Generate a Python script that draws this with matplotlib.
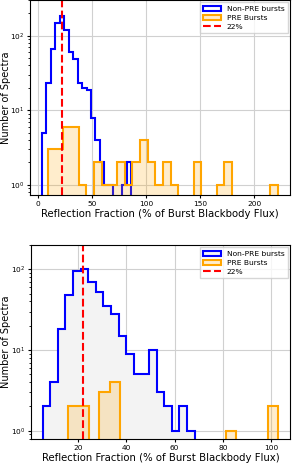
import numpy as np
import matplotlib
matplotlib.use('Agg')
import matplotlib.pyplot as plt

# Top panel: bin edges and counts
top_nonpre_edges = np.linspace(3.4, 86.0, 21)
top_nonpre_counts = [5, 23, 66, 150, 185, 120, 60, 49, 23, 20,
                     19, 8, 4, 2, 1, 1, 0, 0, 1, 2]
top_pre_edges = np.linspace(9.0, 222.0, 31)
top_pre_counts = [3, 3, 6, 6, 1, 0, 2, 1, 1, 2,
                  1, 2, 4, 2, 1, 2, 1, 0, 0, 2,
                  0, 0, 1, 2, 0, 0, 0, 0, 0, 1]

# Bottom panel
bot_nonpre_edges = np.linspace(5.3, 68.3, 21)
bot_nonpre_counts = [2, 4, 18, 48, 96, 100, 69, 52, 35, 28,
                     15, 9, 5, 5, 10, 3, 2, 1, 2, 1]
bot_pre_edges = np.linspace(15.6, 103.0, 21)
bot_pre_counts = [2, 2, 0, 3, 4, 0, 0, 0, 0, 0,
                  0, 0, 0, 0, 0, 1, 0, 0, 0, 2]

ref_line = 22

fig = plt.figure(figsize=(2.92, 4.65), dpi=100)
ax1 = fig.add_axes([0.103, 0.5806, 0.890, 0.419])
ax2 = fig.add_axes([0.106, 0.0559, 0.887, 0.417])


def draw_panel(ax, ne, nc, pe, pc, nonpre_fill, ylim, ylab_x):
    ax.hist(ne[:-1], bins=ne, weights=nc, histtype='stepfilled',
            facecolor=nonpre_fill, edgecolor='blue', linewidth=1.5,
            label='Non-PRE bursts')
    ax.hist(pe[:-1], bins=pe, weights=pc, histtype='stepfilled',
            facecolor=(1.0, 0.647, 0.0, 0.2), edgecolor='orange',
            linewidth=1.5, label='PRE Bursts')
    ax.axvline(ref_line, color='red', linestyle='--', linewidth=1.5,
               label='22%')
    ax.set_yscale('log')
    ax.set_ylim(*ylim)
    ax.set_xlabel('Reflection Fraction (% of Burst Blackbody Flux)',
                  fontsize=7.3, labelpad=1.5)
    ax.set_ylabel('Number of Spectra', fontsize=7.0)
    ax.yaxis.set_label_coords(ylab_x, 0.5)
    ax.tick_params(labelsize=5.3, length=2.5, pad=1.5)
    ax.tick_params(which='minor', length=1.5)
    ax.grid(True, color='#d0d0d0', linewidth=0.8)
    ax.set_axisbelow(True)
    ax.legend(loc='upper right', fontsize=5.4, handlelength=2.3,
              borderpad=0.45, labelspacing=0.35, fancybox=False,
              borderaxespad=0.3)


draw_panel(ax1, top_nonpre_edges, top_nonpre_counts,
           top_pre_edges, top_pre_counts, 'none', (0.73, 300), -0.072)
draw_panel(ax2, bot_nonpre_edges, bot_nonpre_counts,
           bot_pre_edges, bot_pre_counts, '#f3f3f3', (0.79, 200), -0.076)

fig.savefig('out.png', dpi=100)
